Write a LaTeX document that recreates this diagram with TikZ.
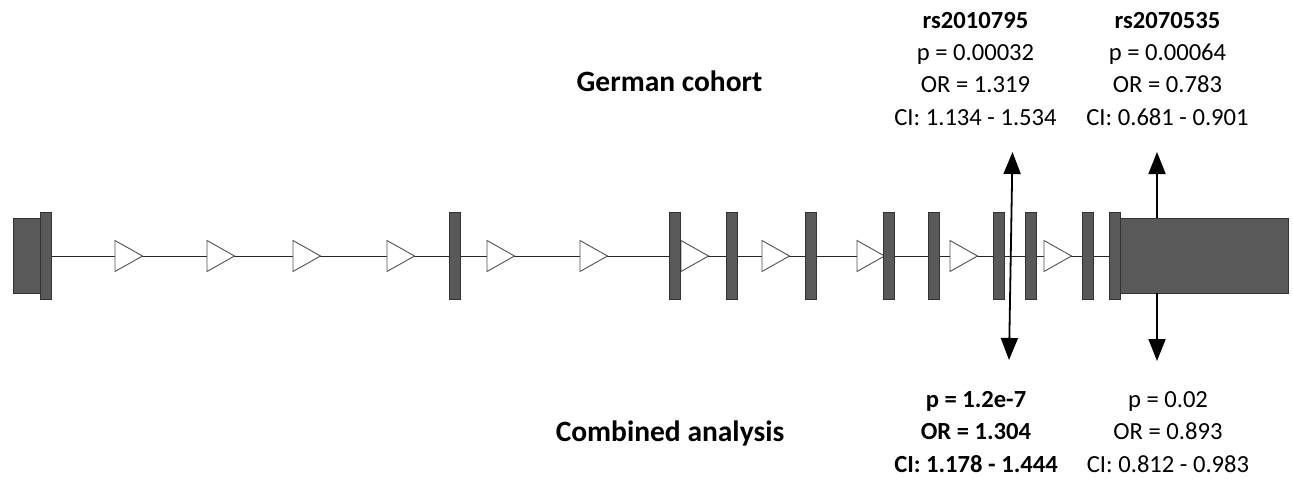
\documentclass[tikz,border=0pt]{standalone}
\usepackage{fontspec}
\setmainfont{Carlito}
\usetikzlibrary{arrows.meta}
\begin{document}
\begin{tikzpicture}[x=1pt,y=-1pt,
  exon/.style={draw=black!80, fill=black!65, line width=0.8pt, inner sep=0pt, minimum width=11pt, minimum height=87pt},
  utr/.style={draw=black!80, fill=black!65, line width=0.8pt, inner sep=0pt, minimum height=75pt},
  intron/.style={draw=black!85, line width=0.9pt},
  dirmark/.style={draw=black!68, fill=white, line width=0.9pt},
  snp/.style={line width=1.8pt, {Triangle[length=22pt,width=17pt]}-{Triangle[length=22pt,width=17pt]}},
  snpup/.style={line width=1.8pt, -{Triangle[length=22pt,width=17pt]}},
  stat/.style={font=\fontsize{24.6}{29}\selectfont, anchor=base, inner sep=0pt},
  statb/.style={stat, font=\bfseries\fontsize{24.6}{29}\selectfont},
  title/.style={font=\bfseries\fontsize{29.5}{35}\selectfont, anchor=base, inner sep=0pt}]
\useasboundingbox (0,0) rectangle (1293,479);
% backbone
\coordinate (lstart) at (51,256);
\coordinate (lend) at (1120,256);
\draw[intron] (lstart) -- (lend);
% direction marks
\foreach \x in {115,207,293,387,487,580,681,762,857,950,1044}
  \draw[dirmark] (\x,240.5) -- ++(27.5,15.5) -- ++(-27.5,15.5) -- cycle;
% UTRs and exons
\node[utr, minimum width=28pt] (utr5) at (27,255.5) {};
\node[exon] (e0) at (45.5,255.5) {};
\foreach \x [count=\i] in {454.5,674.5,732,810.5,888.5,933.5,998.5,1031,1087.5,1114.5}
  \node[exon] (e\i) at (\x,255.5) {};
\node[utr, minimum width=168pt] (bigbox) at (1204,255.5) {};
% SNP arrows
\coordinate (s1top) at (1012.5,152);
\coordinate (s1bot) at (1009,360);
\draw[snp] (s1bot) -- (s1top);
\coordinate (s2top) at (1157,152);
\coordinate (s2bot) at (1157,361);
\draw[snpup] (s2top |- bigbox.north) -- (s2top);
\draw[snpup] (s2bot |- bigbox.south) -- (s2bot);
% titles
\node[title] (gc) at (669.5,91.7) {German cohort};
\node[title] (ca) at (670,441.7) {Combined analysis};
% German cohort stats
\node[statb] (r1) at (975.5,28.3) {rs2010795};
\node[stat] (p1) at (975.5,60.5) {p = 0.00032};
\node[stat] (o1) at (975.5,92.7) {OR = 1.319};
\node[stat] (c1) at (975.5,125) {CI: 1.134 - 1.534};
\node[statb] (r2) at (1167.5,28.3) {rs2070535};
\node[stat] (p2) at (1167.5,60.5) {p = 0.00064};
\node[stat] (o2) at (1167.5,92.7) {OR = 0.783};
\node[stat] (c2) at (1167.5,125) {CI: 0.681 - 0.901};
% combined stats
\node[statb] (cp1) at (976,407.7) {p = 1.2e-7};
\node[statb] (co1) at (976,439.9) {OR = 1.304};
\node[statb] (cc1) at (976,472.1) {CI: 1.178 - 1.444};
\node[stat] (cp2) at (1168,407.7) {p = 0.02};
\node[stat] (co2) at (1168,439.9) {OR = 0.893};
\node[stat] (cc2) at (1168,472.1) {CI: 0.812 - 0.983};
\end{tikzpicture}
\end{document}
